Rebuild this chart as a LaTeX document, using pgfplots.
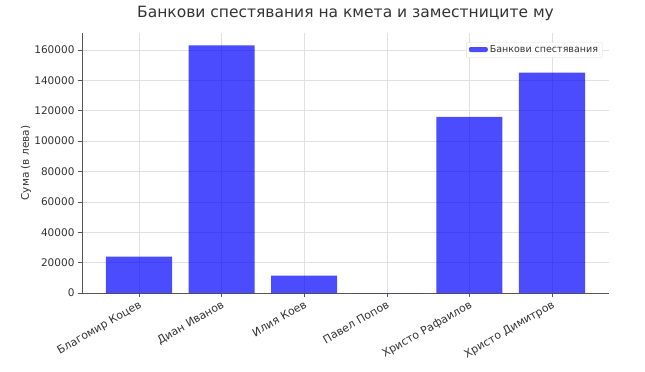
\documentclass[border=0pt]{standalone}
\usepackage{pgfplots}
\pgfplotsset{compat=1.18}
\usepackage{fontspec}
\setmainfont{DejaVu Sans}
\definecolor{spine}{HTML}{555555}
\begin{document}
\begin{tikzpicture}
\useasboundingbox (-82pt,-79pt) rectangle (563pt,293pt);
\begin{axis}[
  at={(0,0)}, anchor=south west,
  scale only axis, width=527pt, height=260pt,
  xmin=-0.69, xmax=5.69, ymin=0, ymax=171150,
  axis x line*=bottom, axis y line*=left,
  axis line style={spine, line width=0.8pt},
  tick align=outside, tick style={spine, line width=0.6pt},
  major tick length=4pt,
  xtick={0,1,2,3,4,5},
  xticklabels={Благомир Коцев, Диан Иванов, Илия Коев, Павел Попов, Христо Рафаилов, Христо Димитров},
  x tick label style={rotate=30, anchor=north east, font=\fontsize{11}{13}\selectfont, text=black!80, inner sep=2pt},
  ytick={0,20000,40000,60000,80000,100000,120000,140000,160000},
  yticklabels={0,20000,40000,60000,80000,100000,120000,140000,160000},
  y tick label style={font=\fontsize{10.5}{12}\selectfont, text=black!80},
  scaled y ticks=false,
  ymajorgrids, xmajorgrids,
  grid style={solid, black!12, line width=0.5pt},
  ylabel={Сума (в лева)},
  ylabel style={font=\fontsize{10.5}{12}\selectfont, text=black!80, at={(axis description cs:-0.09,0.5)}, anchor=south},
  title={Банкови спестявания на кмета и заместниците му},
  title style={font=\fontsize{15.5}{17}\selectfont, text=black!80, at={(axis description cs:0.5,1.01)}, anchor=south},
  legend style={at={(rel axis cs:0.988,0.965)}, anchor=north east, draw=gray!25, rounded corners=2pt, font=\fontsize{9.5}{11}\selectfont, text=black!80, inner xsep=2.5pt, inner ysep=1.5pt},
  legend image code/.code={\fill[#1] (-2pt,-2pt) rectangle (17pt,3pt);},
]
\addplot[ybar, bar width=0.8, bar shift=0pt, fill=blue, fill opacity=0.7, draw=none] coordinates {
 (0,24000) (1,163000) (2,11500) (3,0) (4,116000) (5,145000)
};
\addlegendentry{Банкови спестявания}
\end{axis}
\end{tikzpicture}
\end{document}
